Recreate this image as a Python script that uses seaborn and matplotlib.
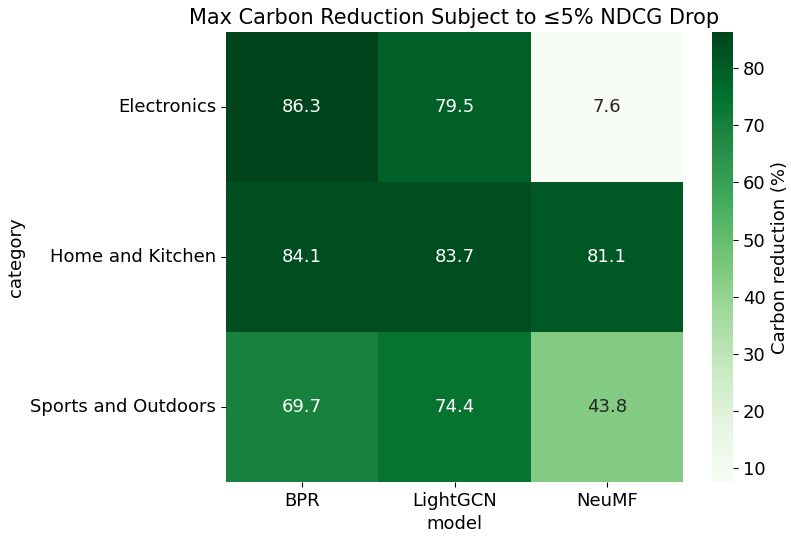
import numpy as np
import pandas as pd
import seaborn as sns
import matplotlib
matplotlib.use("Agg")
import matplotlib.pyplot as plt

categories = ["Electronics", "Home and Kitchen", "Sports and Outdoors"]
models = ["BPR", "LightGCN", "NeuMF"]
bpr = [86.3, 84.1, 69.7]
lightgcn = [79.5, 83.7, 74.4]
neumf = [7.6, 81.1, 43.8]

df = pd.DataFrame({"BPR": bpr, "LightGCN": lightgcn, "NeuMF": neumf}, index=categories)
df.index.name = "category"
df.columns.name = "model"

plt.rcParams["font.size"] = 13
fig = plt.figure(figsize=(7.91, 5.4), dpi=100)
ax = fig.add_axes([226 / 791, 1 - 482 / 540, (683 - 226) / 791, 450 / 540])
cax = fig.add_axes([712 / 791, 1 - 482 / 540, 21 / 791, 450 / 540])

sns.heatmap(df, annot=True, fmt=".1f", cmap="Greens", ax=ax, cbar_ax=cax,
            annot_kws={"fontsize": 13},
            cbar_kws={"label": "Carbon reduction (%)"})
ax.set_title("Max Carbon Reduction Subject to \u22645% NDCG Drop", fontsize=15)
ax.set_xlabel("model", fontsize=13)
ax.set_ylabel("category", fontsize=13)
ax.tick_params(labelsize=13)
plt.setp(ax.get_yticklabels(), rotation=0)
cax.tick_params(labelsize=13)
cax.yaxis.label.set_size(13)

fig.savefig("out.png", dpi=100)
